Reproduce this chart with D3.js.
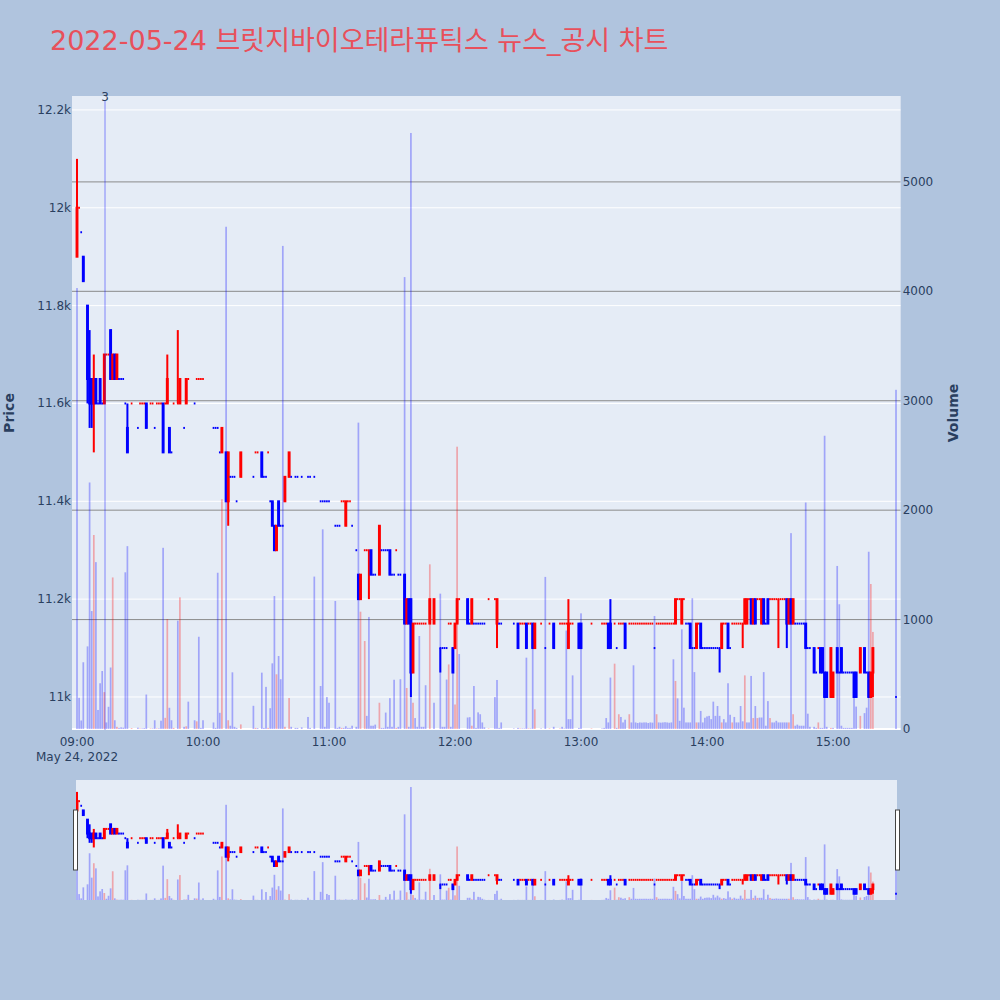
<!DOCTYPE html>
<html><head><meta charset="utf-8">
<script src="https://cdn.jsdelivr.net/npm/d3@7"></script>
<style>body{margin:0;background:#b0c4de}svg{display:block}</style>
</head><body>
<svg id="c" width="1000" height="1000"></svg>
<script>
const chartDate = "2022-05-24";
const titleText = "2022-05-24 브릿지바이오테라퓨틱스 뉴스_공시 차트";
const previousClose = 12050;

const times = [
"09:00","09:01","09:02","09:03","09:05","09:06","09:07","09:08","09:09","09:10",
"09:11","09:12","09:13","09:14","09:15","09:16","09:17","09:18","09:19","09:20",
"09:21","09:22","09:23","09:24","09:26","09:29","09:30","09:31","09:32","09:33",
"09:35","09:36","09:37","09:38","09:39","09:40","09:41","09:42","09:43","09:44",
"09:45","09:46","09:48","09:49","09:51","09:52","09:53","09:56","09:57","09:58",
"09:59","10:00","10:05","10:06","10:07","10:08","10:09","10:11","10:12","10:13",
"10:14","10:15","10:16","10:18","10:24","10:25","10:26","10:28","10:29","10:30",
"10:31","10:32","10:33","10:34","10:35","10:36","10:37","10:38","10:39","10:41",
"10:42","10:44","10:45","10:47","10:50","10:51","10:53","10:56","10:57","10:58",
"10:59","11:00","11:03","11:04","11:05","11:06","11:07","11:08","11:09","11:10",
"11:11","11:13","11:14","11:15","11:17","11:18","11:19","11:20","11:21","11:22",
"11:24","11:25","11:26","11:27","11:28","11:29","11:30","11:31","11:32","11:33",
"11:34","11:36","11:37","11:38","11:39","11:40","11:41","11:42","11:43","11:44",
"11:45","11:46","11:48","11:50","11:53","11:54","11:55","11:56","11:57","11:58",
"11:59","12:00","12:01","12:02","12:06","12:07","12:08","12:09","12:10","12:11",
"12:12","12:13","12:14","12:16","12:19","12:20","12:21","12:22","12:28","12:30",
"12:31","12:32","12:33","12:34","12:35","12:36","12:37","12:38","12:41","12:43",
"12:45","12:47","12:50","12:51","12:52","12:53","12:54","12:55","12:56","12:59",
"13:00","13:05","13:10","13:11","13:12","13:13","13:14","13:16","13:17","13:18",
"13:19","13:20","13:21","13:23","13:24","13:25","13:26","13:27","13:28","13:29",
"13:30","13:31","13:32","13:33","13:34","13:35","13:36","13:37","13:38","13:39",
"13:40","13:41","13:42","13:43","13:44","13:45","13:46","13:47","13:48","13:49",
"13:50","13:51","13:52","13:53","13:54","13:55","13:56","13:57","13:58","13:59",
"14:00","14:01","14:02","14:03","14:04","14:05","14:06","14:07","14:08","14:09",
"14:10","14:11","14:12","14:13","14:14","14:15","14:16","14:17","14:18","14:19",
"14:20","14:21","14:22","14:23","14:24","14:25","14:26","14:27","14:28","14:29",
"14:30","14:31","14:32","14:33","14:34","14:35","14:36","14:37","14:38","14:39",
"14:40","14:41","14:42","14:43","14:44","14:45","14:46","14:47","14:48","14:49",
"14:51","14:52","14:53","14:54","14:55","14:56","14:57","14:59","15:00","15:02",
"15:03","15:04","15:05","15:06","15:07","15:08","15:09","15:10","15:11","15:13",
"15:15","15:16","15:17","15:18","15:19","15:30"];

const open = [
11900,12000,11950,11900,11800,11650,11650,11600,11650,11600,
11650,11600,11600,11700,11700,11750,11650,11700,11650,11650,
11650,11650,11600,11550,11600,11550,11600,11600,11600,11600,
11600,11600,11550,11600,11600,11600,11600,11600,11600,11550,
11500,11600,11600,11600,11550,11600,11650,11600,11650,11650,
11650,11650,11550,11550,11550,11500,11500,11500,11400,11450,
11450,11450,11400,11450,11450,11500,11500,11500,11450,11450,
11500,11400,11400,11350,11300,11400,11350,11350,11400,11450,
11450,11450,11450,11450,11450,11450,11450,11400,11400,11400,
11400,11400,11350,11350,11350,11400,11400,11350,11400,11400,
11350,11300,11250,11200,11300,11300,11300,11300,11250,11250,
11250,11300,11300,11300,11300,11300,11250,11250,11300,11250,
11250,11250,11150,11200,11200,11050,11150,11150,11150,11150,
11150,11150,11150,11150,11100,11100,11100,11100,11150,11150,
11100,11100,11150,11200,11200,11150,11150,11150,11150,11150,
11150,11150,11150,11200,11200,11150,11150,11150,11150,11150,
11150,11150,11150,11150,11150,11150,11150,11100,11150,11100,
11150,11150,11150,11150,11150,11150,11100,11150,11150,11150,
11150,11150,11150,11150,11150,11150,11150,11150,11100,11150,
11150,11150,11150,11150,11150,11150,11150,11150,11150,11150,
11150,11150,11150,11150,11150,11100,11150,11150,11150,11150,
11150,11150,11150,11150,11150,11150,11200,11200,11150,11200,
11150,11150,11150,11100,11100,11100,11150,11150,11100,11100,
11100,11100,11100,11100,11100,11100,11100,11100,11150,11150,
11150,11100,11150,11150,11150,11150,11150,11150,11150,11150,
11200,11200,11150,11200,11200,11200,11150,11200,11150,11200,
11200,11200,11200,11200,11200,11200,11200,11200,11200,11150,
11200,11150,11150,11150,11150,11150,11150,11150,11100,11100,
11100,11050,11100,11100,11100,11050,11050,11000,11000,11100,
11050,11100,11050,11050,11050,11050,11050,11050,11050,11050,
11100,11050,11050,11000,11050,11000];

const high = [
12100,12000,11950,11900,11800,11750,11650,11700,11650,11600,
11650,11600,11700,11700,11700,11750,11700,11700,11700,11650,
11650,11650,11600,11600,11600,11550,11600,11600,11600,11600,
11600,11600,11550,11600,11600,11600,11600,11600,11700,11550,
11500,11600,11750,11650,11550,11650,11650,11600,11650,11650,
11650,11650,11550,11550,11550,11500,11550,11500,11500,11450,
11450,11450,11400,11500,11450,11500,11500,11500,11450,11450,
11500,11400,11400,11350,11350,11400,11350,11350,11450,11500,
11450,11450,11450,11450,11450,11450,11450,11400,11400,11400,
11400,11400,11350,11350,11350,11400,11400,11400,11400,11400,
11350,11300,11250,11250,11300,11300,11300,11300,11250,11250,
11350,11300,11300,11300,11300,11300,11250,11250,11300,11250,
11250,11250,11200,11200,11200,11150,11150,11150,11150,11150,
11150,11150,11200,11200,11100,11100,11100,11100,11150,11150,
11100,11150,11200,11200,11200,11150,11200,11150,11150,11150,
11150,11150,11150,11200,11200,11200,11150,11150,11150,11150,
11150,11150,11150,11150,11150,11150,11150,11150,11150,11100,
11150,11150,11150,11150,11150,11150,11200,11150,11150,11150,
11150,11150,11150,11150,11150,11150,11200,11150,11100,11150,
11150,11150,11150,11150,11150,11150,11150,11150,11150,11150,
11150,11150,11150,11150,11150,11100,11150,11150,11150,11150,
11150,11150,11150,11150,11150,11200,11200,11200,11200,11200,
11150,11150,11150,11100,11100,11150,11150,11150,11100,11100,
11100,11100,11100,11100,11100,11100,11100,11150,11150,11150,
11150,11100,11150,11150,11150,11150,11150,11150,11200,11200,
11200,11200,11200,11200,11200,11200,11200,11200,11150,11200,
11200,11200,11200,11200,11200,11200,11200,11200,11200,11200,
11200,11200,11150,11150,11150,11150,11150,11150,11100,11100,
11100,11050,11100,11100,11100,11050,11050,11100,11050,11100,
11050,11100,11050,11050,11050,11050,11050,11050,11050,11100,
11100,11050,11050,11050,11100,11000];

const low = [
11900,12000,11950,11850,11600,11550,11550,11500,11600,11600,
11600,11600,11600,11700,11700,11650,11650,11650,11650,11650,
11650,11650,11600,11500,11600,11550,11600,11600,11600,11550,
11600,11600,11550,11600,11600,11600,11500,11600,11600,11500,
11500,11600,11600,11600,11550,11600,11650,11600,11650,11650,
11650,11650,11550,11550,11550,11500,11500,11400,11350,11450,
11450,11450,11400,11450,11450,11500,11500,11450,11450,11450,
11500,11400,11350,11300,11300,11350,11350,11350,11400,11450,
11450,11450,11450,11450,11450,11450,11450,11400,11400,11400,
11400,11400,11350,11350,11350,11400,11400,11350,11400,11400,
11350,11300,11200,11200,11300,11300,11200,11250,11250,11250,
11250,11300,11300,11300,11300,11250,11250,11250,11300,11250,
11250,11150,11150,11150,11000,11050,11150,11150,11150,11150,
11150,11150,11150,11150,11050,11100,11100,11100,11150,11150,
11050,11100,11150,11200,11150,11150,11150,11150,11150,11150,
11150,11150,11150,11200,11200,11100,11150,11150,11150,11100,
11150,11150,11150,11100,11150,11150,11100,11100,11150,11100,
11150,11100,11150,11150,11150,11150,11100,11150,11150,11100,
11100,11150,11150,11150,11150,11100,11100,11150,11100,11150,
11150,11150,11100,11150,11150,11150,11150,11150,11150,11150,
11150,11150,11150,11150,11150,11100,11150,11150,11150,11150,
11150,11150,11150,11150,11150,11150,11200,11200,11150,11200,
11150,11150,11100,11100,11100,11100,11150,11100,11100,11100,
11100,11100,11100,11100,11100,11100,11050,11100,11150,11150,
11100,11100,11150,11150,11150,11150,11150,11100,11150,11150,
11200,11150,11150,11150,11200,11200,11150,11150,11150,11150,
11200,11200,11200,11200,11100,11200,11200,11200,11100,11150,
11150,11150,11150,11150,11150,11150,11150,11100,11100,11100,
11050,11050,11100,11050,11050,11000,11000,11000,11000,11050,
11050,11050,11050,11050,11050,11050,11050,11000,11000,11050,
11050,11050,11000,11000,11000,11000];

const close = [
12000,12000,11950,11850,11650,11600,11600,11650,11600,11600,
11600,11600,11700,11700,11700,11650,11700,11650,11700,11650,
11650,11650,11600,11500,11600,11550,11600,11600,11600,11550,
11600,11600,11550,11600,11600,11600,11500,11600,11650,11500,
11500,11600,11600,11650,11550,11650,11650,11600,11650,11650,
11650,11650,11550,11550,11550,11500,11550,11400,11500,11450,
11450,11450,11400,11500,11450,11500,11500,11450,11450,11450,
11500,11400,11350,11300,11350,11350,11350,11350,11450,11500,
11450,11450,11450,11450,11450,11450,11450,11400,11400,11400,
11400,11400,11350,11350,11350,11400,11400,11400,11400,11400,
11350,11300,11200,11250,11300,11300,11300,11250,11250,11250,
11350,11300,11300,11300,11300,11250,11250,11250,11300,11250,
11250,11150,11200,11150,11050,11150,11150,11150,11150,11150,
11150,11150,11200,11200,11100,11100,11100,11100,11150,11150,
11050,11150,11200,11200,11150,11150,11200,11150,11150,11150,
11150,11150,11150,11200,11200,11200,11150,11150,11150,11100,
11150,11150,11150,11100,11150,11150,11100,11150,11150,11100,
11150,11100,11150,11150,11150,11150,11150,11150,11150,11100,
11100,11150,11150,11150,11150,11100,11100,11150,11100,11150,
11150,11150,11100,11150,11150,11150,11150,11150,11150,11150,
11150,11150,11150,11150,11150,11100,11150,11150,11150,11150,
11150,11150,11150,11150,11150,11200,11200,11200,11200,11200,
11150,11150,11100,11100,11100,11150,11150,11100,11100,11100,
11100,11100,11100,11100,11100,11100,11100,11150,11150,11150,
11100,11100,11150,11150,11150,11150,11150,11150,11200,11200,
11200,11150,11200,11150,11200,11200,11200,11150,11150,11150,
11200,11200,11200,11200,11200,11200,11200,11200,11150,11200,
11150,11200,11150,11150,11150,11150,11150,11100,11100,11100,
11050,11050,11100,11050,11050,11000,11000,11100,11050,11050,
11050,11050,11050,11050,11050,11050,11050,11000,11000,11100,
11050,11050,11000,11050,11100,11000];

const volume = [
4030,285,78,610,755,2253,1078,1773,1525,174,
418,530,337,60,203,562,1385,80,20,10,
15,12,1432,1671,8,12,5,5,8,315,
5,5,80,5,6,76,1656,102,1005,194,
80,10,990,1203,20,25,250,80,70,843,
10,80,60,10,1428,148,2100,4590,80,30,
518,20,10,42,212,10,8,515,10,385,
10,190,600,1215,500,667,455,4415,20,283,
20,10,10,15,110,10,1393,393,1825,20,
292,240,1170,10,20,10,10,25,10,10,
30,20,2800,1072,804,120,1024,30,30,40,
240,10,10,150,20,282,20,450,10,20,
455,4130,375,20,5447,240,100,20,850,20,
20,400,1505,240,1237,20,20,452,590,20,
693,224,2580,685,105,108,30,393,10,152,
135,60,15,5,292,448,10,60,5,10,
5,5,5,652,5,5,820,180,5,1390,
5,20,5,20,5,900,90,90,490,10,
1057,5,5,10,100,60,470,597,10,135,
110,60,85,135,60,582,60,55,60,58,
60,60,55,60,58,1033,135,60,58,60,
62,60,57,60,637,439,280,75,911,195,
60,60,60,1195,520,60,60,165,60,103,
115,120,90,250,120,210,120,60,90,60,
418,130,60,110,60,60,210,70,490,60,
60,485,100,210,100,105,105,520,30,255,
100,60,60,75,60,60,60,60,60,60,
1790,135,30,40,30,30,30,2070,140,20,
20,10,60,10,10,2680,20,10,10,1490,
1140,30,10,10,10,10,10,378,205,120,
145,195,1620,1325,887,3100];

const priceTicks = [11000,11200,11400,11600,11800,12000,12200];
const priceTickLabels = ["11k","11.2k","11.4k","11.6k","11.8k","12k","12.2k"];
const volumeTicks = [0,1000,2000,3000,4000,5000];
const volumeTickLabels = ["0","1000","2000","3000","4000","5000"];
const timeTicks = ["09:00","10:00","11:00","12:00","13:00","14:00","15:00"];
const dateTickLabel = "May 24, 2022";
const newsTimes = ["09:13:20"];
const newsLabels = ["3"];

// ---------- layout ----------
const P = {l:72, r:900.7, t:96, b:730};
const S = {l:76, r:897, t:780, b:900};
const xRange = ["08:57:37","15:32:14"];
const priceRange = [10932.5, 12228.5];
const volRange = [0, 5785];
const UP = "#ff0000", DOWN = "#0000ff";
const UPV = "rgba(255,0,0,0.3)", DOWNV = "rgba(0,0,255,0.3)";
const FONT = "'DejaVu Sans','Noto Sans CJK KR',sans-serif";
const TXT = "#2a3f5f";

const pt = d3.timeParse("%Y-%m-%d %H:%M:%S");
const pm = d3.timeParse("%Y-%m-%d %H:%M");
const data = times.map((t,i)=>({t:pm(chartDate+" "+t),o:open[i],h:high[i],l:low[i],c:close[i],v:volume[i]}));
// plotly direction logic
let inc = true, cPrev = null;
data.forEach((d,i)=>{
  if (d.c === d.o) { if (cPrev !== null && d.c !== cPrev) inc = d.c > cPrev; }
  else inc = d.c > d.o;
  d.inc = inc;
  const pc = i === 0 ? previousClose : data[i-1].c;
  d.vUp = d.c > pc;
  cPrev = d.c;
});

const x = d3.scaleTime().domain(xRange.map(s=>pt(chartDate+" "+s))).range([P.l,P.r]);
const yP = d3.scaleLinear().domain(priceRange).range([P.b,P.t]);
const yV = d3.scaleLinear().domain(volRange).range([P.b-1,P.t]);
const yPs = d3.scaleLinear().domain(priceRange).range([S.b,S.t]);
const yVs = d3.scaleLinear().domain(volRange).range([S.b,S.t]);

const svg = d3.select("#c");
svg.append("rect").attr("width",1000).attr("height",1000).attr("fill","#b0c4de");

const defs = svg.append("defs");
defs.append("clipPath").attr("id","cp").append("rect").attr("x",P.l).attr("y",P.t).attr("width",P.r-P.l).attr("height",P.b-P.t);
defs.append("clipPath").attr("id","cs").append("rect").attr("x",S.l).attr("y",S.t).attr("width",S.r-S.l).attr("height",S.b-S.t);

// title
svg.append("text").attr("x",50).attr("y",50).attr("font-family",FONT).attr("font-size",27)
  .attr("fill","#e8505b").text(titleText);

// main plot background
svg.append("rect").attr("x",P.l).attr("y",P.t).attr("width",P.r-P.l).attr("height",P.b-P.t).attr("fill","#e5ecf6");

const g = svg.append("g").attr("clip-path","url(#cp)");
g.selectAll(".pg").data(priceTicks).join("line")
  .attr("x1",P.l).attr("x2",P.r).attr("y1",d=>yP(d)).attr("y2",d=>yP(d))
  .attr("stroke","#fff").attr("stroke-width",1);
g.selectAll(".vg").data(volumeTicks.filter(v=>v>0)).join("line")
  .attr("x1",P.l).attr("x2",P.r).attr("y1",d=>yV(d)).attr("y2",d=>yV(d))
  .attr("stroke","#8a8a8a").attr("stroke-width",1);
g.append("line").attr("x1",P.l).attr("x2",P.r).attr("y1",yV(0)).attr("y2",yV(0))
  .attr("stroke","#fff").attr("stroke-width",2);

function drawCandles(sel, ys){
  sel.selectAll(".w").data(data).join("rect")
    .attr("x",d=>x(d.t)-1).attr("width",2)
    .attr("y",d=>ys(d.h)).attr("height",d=>Math.max(0,ys(d.l)-ys(d.h)))
    .attr("fill",d=>d.inc?UP:DOWN);
  sel.selectAll(".b").data(data).join("rect")
    .attr("x",d=>x(d.t)-(d.o===d.c?0.85:1.45)).attr("width",d=>d.o===d.c?1.7:2.9)
    .attr("y",d=>Math.min(ys(d.o),ys(d.c))-1).attr("height",d=>Math.abs(ys(d.o)-ys(d.c))+2)
    .attr("fill",d=>d.inc?UP:DOWN);
}
function drawVolume(sel, ys){
  sel.selectAll(".v").data(data).join("rect")
    .attr("x",d=>x(d.t)-0.85).attr("width",1.7)
    .attr("y",d=>ys(d.v)).attr("height",d=>Math.max(0,ys(0)-ys(d.v)))
    .attr("fill",d=>d.vUp?UPV:DOWNV);
}
drawCandles(g.append("g"), yP);
drawVolume(g.append("g"), yV);

// news markers
const news = newsTimes.map((t,i)=>({t:pt(chartDate+" "+t),label:newsLabels[i]}));
g.selectAll(".nl").data(news).join("line")
  .attr("x1",d=>x(d.t)).attr("x2",d=>x(d.t)).attr("y1",P.b).attr("y2",P.t+4)
  .attr("stroke","rgba(0,0,255,0.22)").attr("stroke-width",2);
svg.selectAll(".nt").data(news).join("text")
  .attr("x",d=>x(d.t)).attr("y",P.t+5).attr("text-anchor","middle")
  .attr("font-family",FONT).attr("font-size",12).attr("fill",TXT).text(d=>d.label);

// price axis labels
svg.selectAll(".pl").data(priceTicks).join("text")
  .attr("x",P.l-1).attr("y",d=>yP(d)+4).attr("text-anchor","end")
  .attr("font-family",FONT).attr("font-size",12).attr("fill",TXT)
  .text((d,i)=>priceTickLabels[i]);
// volume axis labels
svg.selectAll(".vl").data(volumeTicks).join("text")
  .attr("x",P.r+2).attr("y",d=>yV(d)+4).attr("text-anchor","start")
  .attr("font-family",FONT).attr("font-size",12).attr("fill",TXT)
  .text((d,i)=>volumeTickLabels[i]);
// time axis labels
svg.selectAll(".tl").data(timeTicks).join("text")
  .attr("x",d=>x(pm(chartDate+" "+d))).attr("y",746).attr("text-anchor","middle")
  .attr("font-family",FONT).attr("font-size",12).attr("fill",TXT).text(d=>d);
svg.append("text").attr("x",x(pm(chartDate+" "+timeTicks[0]))).attr("y",761).attr("text-anchor","middle")
  .attr("font-family",FONT).attr("font-size",12).attr("fill",TXT).text(dateTickLabel);

// axis titles
svg.append("text").attr("transform",`translate(14,${(P.t+P.b)/2}) rotate(-90)`).attr("text-anchor","middle")
  .attr("font-family",FONT).attr("font-size",14).attr("font-weight","bold").attr("fill",TXT).text("Price");
svg.append("text").attr("transform",`translate(958,${(P.t+P.b)/2}) rotate(-90)`).attr("text-anchor","middle")
  .attr("font-family",FONT).attr("font-size",14).attr("font-weight","bold").attr("fill",TXT).text("Volume");

// range slider
svg.append("rect").attr("x",S.l).attr("y",S.t).attr("width",S.r-S.l).attr("height",S.b-S.t).attr("fill","#e5ecf6");
const gs = svg.append("g").attr("clip-path","url(#cs)");
drawCandles(gs.append("g"), yPs);
drawVolume(gs.append("g"), yVs);
[S.l-2.5, S.r-1.5].forEach(hx=>{
  svg.append("rect").attr("x",hx).attr("y",S.t+30).attr("width",4).attr("height",60)
    .attr("fill","#fff").attr("stroke","#444").attr("stroke-width",1);
});
</script>
</body></html>
